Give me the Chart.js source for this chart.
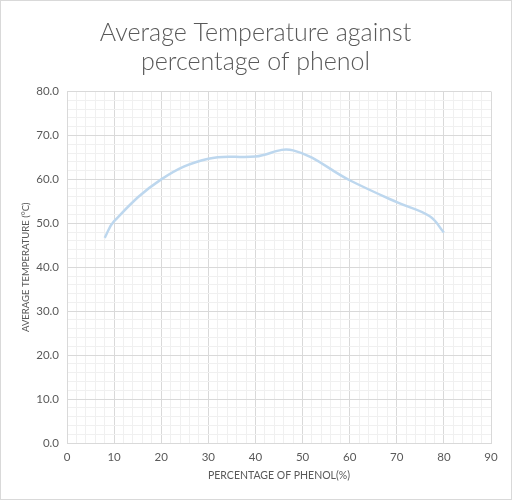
<!DOCTYPE html>
<html>
<head>
<meta charset="utf-8">
<script src="https://cdn.jsdelivr.net/npm/chart.js@4"></script>
<style>
  html, body { margin: 0; padding: 0; background: #fff; }
  #wrap { width: 510px; height: 498px; border: 1px solid #d9d9d9; }
</style>
</head>
<body>
<div id="wrap"><canvas id="tempChart" width="510" height="498"></canvas></div>
<script>
// values
const phenolPct = [8, 10, 20, 30, 40, 48, 60, 70, 77, 80];
const avgTemp = [46.7, 50.5, 60.0, 64.7, 65.2, 66.6, 59.8, 54.8, 51.6, 47.9];
const xTicks = [0, 10, 20, 30, 40, 50, 60, 70, 80, 90];
const yTicks = [0, 10, 20, 30, 40, 50, 60, 70, 80];

const textColor = "#595959";
const majorGrid = "#d9d9d9";
const minorGrid = "#f0f0f0";

const points = phenolPct.map((x, i) => ({ x: x, y: avgTemp[i] }));

// major lines every 10, minor every 2
const gridColor = (ctx) =>
  ctx.tick && ctx.tick.value % 10 === 0 ? majorGrid : minorGrid;

const ctx = document.getElementById("tempChart").getContext("2d");
new Chart(ctx, {
  type: "scatter",
  data: {
    datasets: [
      {
        data: points,
        showLine: true,
        borderColor: "#bdd7ee",
        borderWidth: 2.5,
        pointRadius: 0,
        tension: 0.4,
        fill: false,
      },
    ],
  },
  options: {
    responsive: false,
    animation: false,
    layout: { padding: { top: 8, left: 19, right: 20, bottom: 8 } },
    plugins: {
      legend: { display: false },
      tooltip: { enabled: false },
      title: {
        display: true,
        text: ["Average Temperature against", "percentage of phenol"],
        color: textColor,
        font: { family: "Lato", size: 25, weight: "300", lineHeight: 1.15 },
        padding: { top: 10, bottom: 15 },
      },
    },
    scales: {
      x: {
        type: "linear",
        min: 0,
        max: 90,
        afterBuildTicks: (scale) => {
          const t = [];
          for (let v = 0; v <= 90; v += 2) t.push({ value: v });
          scale.ticks = t;
        },
        afterFit: (scale) => { scale.height = 48; },
        ticks: {
          autoSkip: false,
          maxRotation: 0,
          color: textColor,
          font: { family: "Lato", size: 11.5 },
          padding: 7,
          callback: (v) => (xTicks.includes(v) ? String(v) : ""),
        },
        grid: { color: gridColor, drawTicks: false },
        border: { color: majorGrid },
        title: {
          display: true,
          text: "PERCENTAGE OF PHENOL(%)",
          color: textColor,
          font: { family: "Lato", size: 10.5 },
          padding: { top: 1, bottom: 9 },
        },
      },
      y: {
        min: 0,
        max: 80,
        afterBuildTicks: (scale) => {
          const t = [];
          for (let v = 0; v <= 80; v += 2) t.push({ value: v });
          scale.ticks = t;
        },
        afterFit: (scale) => { scale.width = 47; },
        ticks: {
          autoSkip: false,
          color: textColor,
          font: { family: "Lato", size: 11.5 },
          padding: 8,
          callback: (v) => (yTicks.includes(v) ? v.toFixed(1) : ""),
        },
        grid: { color: gridColor, drawTicks: false },
        border: { color: majorGrid },
        title: {
          display: true,
          text: "AVERAGE TEMPERATURE (°C)",
          color: textColor,
          font: { family: "Lato", size: 9.5 },
          padding: { top: 0, bottom: 4 },
        },
      },
    },
  },
});
</script>
</body>
</html>
